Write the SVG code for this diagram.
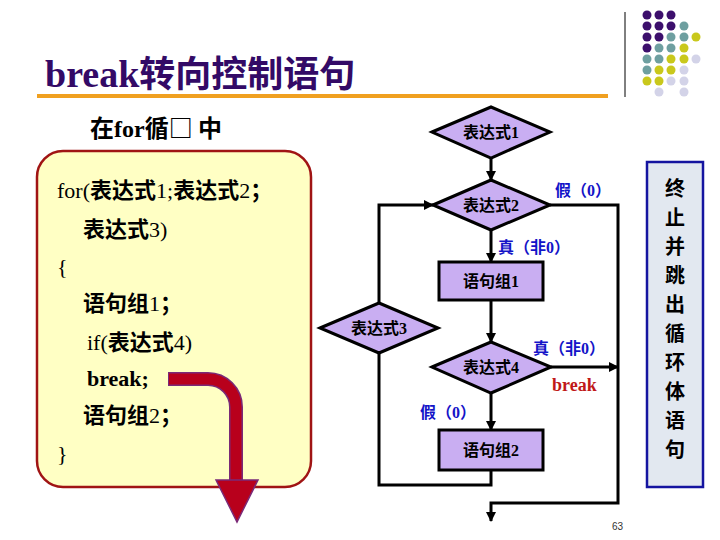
<svg xmlns="http://www.w3.org/2000/svg" width="720" height="540" viewBox="0 0 720 540">
<defs>
<style>
.t{font-family:"Liberation Serif","Noto Sans CJK SC",serif;}
.b{font-weight:bold;font-family:"Noto Sans CJK SC","Liberation Serif",sans-serif;}
.code{font-family:"Liberation Serif","Noto Sans CJK SC",serif;font-size:22px;fill:#000;}
.fc{font-family:"Liberation Serif","Noto Sans CJK SC",serif;font-size:16px;font-weight:bold;fill:#000;text-anchor:middle;}
.lab{font-family:"Liberation Serif","Noto Sans CJK SC",serif;font-size:16px;font-weight:bold;fill:#1414c8;}
.shape{fill:#c9aef2;stroke:#000;stroke-width:3;}
.ln{fill:none;stroke:#000;stroke-width:3;}
.p{fill:#3c0f6c}.tl{fill:#6e9fa0}.y{fill:#c9c81c}.l{fill:#d3d3e8}
</style>
<marker id="ah" markerWidth="10" markerHeight="10" refX="9" refY="5" orient="auto" markerUnits="userSpaceOnUse">
<path d="M0,0 L10,5 L0,10 z" fill="#000"/>
</marker>
</defs>
<rect width="720" height="540" fill="#fff"/>

<g id="decor">
<line x1="625" y1="12" x2="625" y2="97" stroke="#000" stroke-width="1"/>
<g>
<circle class="p" cx="647" cy="15" r="4.5"/><circle class="p" cx="659" cy="15" r="4.5"/><circle class="p" cx="671" cy="15" r="4.5"/>
<circle class="p" cx="647" cy="26" r="4.5"/><circle class="p" cx="659" cy="26" r="4.5"/><circle class="p" cx="671" cy="26" r="4.5"/><circle class="tl" cx="684" cy="26" r="4.5"/>
<circle class="p" cx="647" cy="37" r="4.5"/><circle class="p" cx="659" cy="37" r="4.5"/><circle class="tl" cx="671" cy="37" r="4.5"/><circle class="tl" cx="684" cy="37" r="4.5"/><circle class="y" cx="696" cy="37" r="4.5"/>
<circle class="p" cx="647" cy="48" r="4.5"/><circle class="tl" cx="659" cy="48" r="4.5"/><circle class="tl" cx="671" cy="48" r="4.5"/><circle class="y" cx="684" cy="48" r="4.5"/>
<circle class="tl" cx="647" cy="59" r="4.5"/><circle class="tl" cx="659" cy="59" r="4.5"/><circle class="y" cx="671" cy="59" r="4.5"/><circle class="y" cx="684" cy="59" r="4.5"/><circle class="l" cx="696" cy="59" r="4.5"/>
<circle class="tl" cx="647" cy="70" r="4.5"/><circle class="y" cx="659" cy="70" r="4.5"/><circle class="y" cx="671" cy="70" r="4.5"/><circle class="l" cx="684" cy="70" r="4.5"/>
<circle class="y" cx="647" cy="81" r="4.5"/><circle class="y" cx="659" cy="81" r="4.5"/><circle class="l" cx="671" cy="81" r="4.5"/><circle class="l" cx="684" cy="81" r="4.5"/>
<circle class="l" cx="659" cy="92" r="4.5"/><circle class="l" cx="684" cy="92" r="4.5"/>
</g>
<text x="45" y="87" class="t" font-size="38" font-weight="bold" fill="#330a66">break<tspan class="b" font-size="36">转向控制语句</tspan></text>
<rect x="37" y="94" width="571" height="4" fill="#f0a020"/>
<text x="90" y="137" class="t" font-size="24" font-weight="bold" fill="#000"><tspan class="b">在</tspan>for<tspan class="b">循□ 中</tspan></text>
</g>

<g id="codebox">
<rect x="37" y="151" width="274" height="336" rx="26" ry="26" fill="#ffffc4" stroke="#a01414" stroke-width="2.5"/>
<text class="code" x="57" y="198">for(<tspan class="b">表达式</tspan>1;<tspan class="b">表达式</tspan>2<tspan class="b">；</tspan></text>
<text class="code" x="83" y="237"><tspan class="b">表达式</tspan>3)</text>
<text class="code" x="57" y="274">{</text>
<text class="code" x="83" y="311"><tspan class="b">语句组</tspan>1<tspan class="b">；</tspan></text>
<text class="code" x="87" y="350">if(<tspan class="b">表达式</tspan>4)</text>
<text class="code" x="87" y="386" font-weight="bold" fill="#1a1aa8">break;</text>
<text class="code" x="83" y="423"><tspan class="b">语句组</tspan>2<tspan class="b">；</tspan></text>
<text class="code" x="57" y="461">}</text>
</g>

<g id="bigarrow">
<path d="M168,379 H208 A28,28 0 0 1 236,407 V481" fill="none" stroke="#7a2a78" stroke-width="14"/>
<path d="M169,379 H208 A28,28 0 0 1 236,407 V482" fill="none" stroke="#b8001c" stroke-width="11"/>
<polygon points="216,480 258,480 237,522" fill="#b8001c" stroke="#7a2a78" stroke-width="1.5"/>
</g>

<g id="connectors">
<line class="ln" x1="491" y1="158" x2="491" y2="180" marker-end="url(#ah)"/>
<polyline class="ln" points="379,303 379,205 433,205" marker-end="url(#ah)"/>
<line class="ln" x1="491" y1="230" x2="491" y2="262" marker-end="url(#ah)"/>
<line class="ln" x1="491" y1="300" x2="491" y2="342" marker-end="url(#ah)"/>
<line class="ln" x1="551" y1="367" x2="618" y2="367" marker-end="url(#ah)"/>
<line class="ln" x1="491" y1="393" x2="491" y2="430" marker-end="url(#ah)"/>
<polyline class="ln" points="491,470 491,485 379,485 379,353"/>
<polyline class="ln" points="550,205 618,205 618,503 491,503 491,521" marker-end="url(#ah)"/>
<text class="lab" x="555" y="196">假（0）</text>
<text class="lab" x="498" y="253">真（非0）</text>
<text class="lab" x="533" y="354">真（非0）</text>
<text x="552" y="391" class="t" font-size="18" font-weight="bold" fill="#c01818">break</text>
<text class="lab" x="420" y="418">假（0）</text>
</g>

<g id="expr1">
<polygon class="shape" points="432,132 491,107 550,132 491,158"/>
<text class="fc" x="491" y="138">表达式1</text>
</g>
<g id="expr2">
<polygon class="shape" points="433,205 491,180 550,205 491,230"/>
<text class="fc" x="491" y="211">表达式2</text>
</g>
<g id="stmt1">
<rect class="shape" x="439" y="262" width="104" height="38" stroke-width="3.5"/>
<text class="fc" x="491" y="287">语句组1</text>
</g>
<g id="expr3">
<polygon class="shape" points="320,328 379,303 438,328 379,353"/>
<text class="fc" x="379" y="334">表达式3</text>
</g>
<g id="expr4">
<polygon class="shape" points="432,367 491,342 551,367 491,393"/>
<text class="fc" x="491" y="373">表达式4</text>
</g>
<g id="stmt2">
<rect class="shape" x="439" y="430" width="104" height="40" stroke-width="3.5"/>
<text class="fc" x="491" y="456">语句组2</text>
</g>

<g id="note">
<rect x="647" y="162" width="56" height="325" fill="#e2e8f0" stroke="#1414a0" stroke-width="2.5"/>
<g class="b" font-size="20" text-anchor="middle" fill="#000">
<text x="675" y="196">终</text>
<text x="675" y="225">止</text>
<text x="675" y="254">并</text>
<text x="675" y="283">跳</text>
<text x="675" y="312">出</text>
<text x="675" y="341">循</text>
<text x="675" y="370">环</text>
<text x="675" y="399">体</text>
<text x="675" y="428">语</text>
<text x="675" y="457">句</text>
</g>
</g>

<text x="612" y="530" font-family="Liberation Sans, sans-serif" font-size="10" fill="#333">63</text>
</svg>
